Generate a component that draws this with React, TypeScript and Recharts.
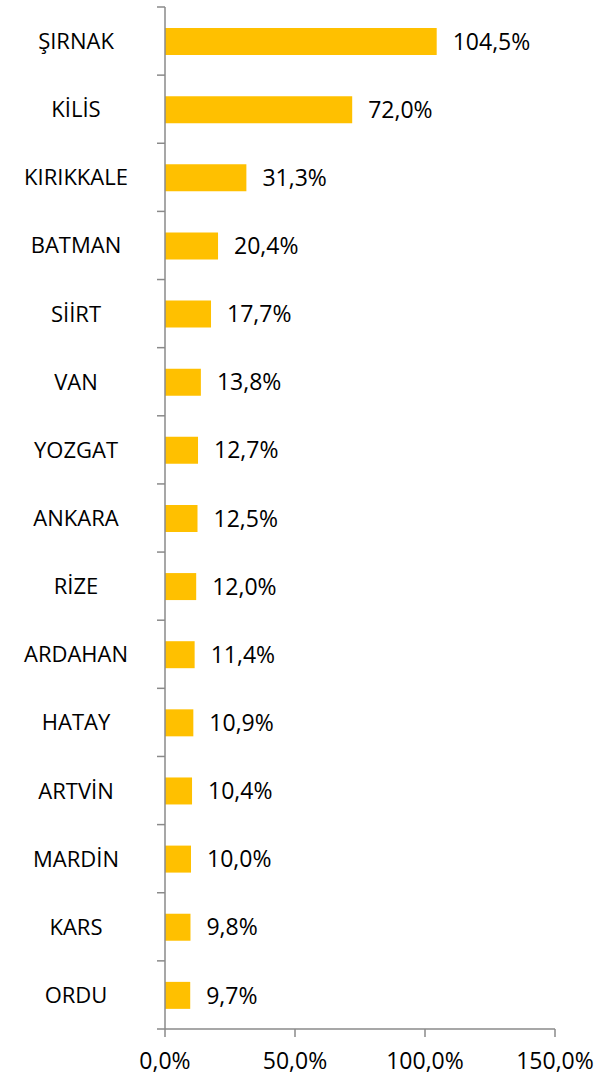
import React from 'react';
import { BarChart, Bar, XAxis, YAxis, LabelList } from 'recharts';

const provinces = ['ŞIRNAK', 'KİLİS', 'KIRIKKALE', 'BATMAN', 'SİİRT', 'VAN', 'YOZGAT', 'ANKARA', 'RİZE', 'ARDAHAN', 'HATAY', 'ARTVİN', 'MARDİN', 'KARS', 'ORDU'];
const rates = [104.5, 72.0, 31.3, 20.4, 17.7, 13.8, 12.7, 12.5, 12.0, 11.4, 10.9, 10.4, 10.0, 9.8, 9.7];
const xTicks = [0, 50, 100, 150];

const W = 608;
const H = 1078;
const X_AXIS_H = 30;
const M = { top: 7, right: 53, bottom: 49 - X_AXIS_H, left: 0 };
const Y_AXIS_W = 165;
const band = (H - M.top - 49) / provinces.length;
const AXIS = '#8a8a8a';
const FONT = '"Open Sans", sans-serif';

const pct = (v: number) => v.toFixed(1).replace('.', ',') + '%';

const data = provinces.map((name, i) => ({ name, value: rates[i] }));

// category labels sit mid-band, tick marks sit on band edges (Excel style)
function CategoryTick(props: any) {
  const { y, payload, index } = props;
  const top = y - band / 2;
  const ax = Y_AXIS_W;
  return (
    <g>
      <line x1={ax - 8} x2={ax} y1={top} y2={top} stroke={AXIS} strokeWidth={1.5} />
      {index === provinces.length - 1 && (
        <line x1={ax - 8} x2={ax} y1={top + band} y2={top + band} stroke={AXIS} strokeWidth={1.5} />
      )}
      <text x={76} y={y} dy={8} textAnchor="middle" fontFamily={FONT} fontSize={22} fill="#000">
        {payload.value}
      </text>
    </g>
  );
}

function ValueTick(props: any) {
  const { x, payload } = props;
  return (
    <text x={x} y={H - 49} dy={40} textAnchor="middle" fontFamily={FONT} fontSize={23} fill="#000">
      {pct(payload.value)}
    </text>
  );
}

export default function App() {
  return (
    <div style={{ position: 'absolute', left: 0, top: 0, width: W, height: H, background: '#fff' }}>
      <BarChart width={W} height={H} data={data} layout="vertical" margin={M} barSize={27}>
        <XAxis
          type="number"
          domain={[0, 150]}
          ticks={xTicks}
          height={X_AXIS_H}
          stroke={AXIS}
          strokeWidth={1.5}
          tickSize={8}
          tick={<ValueTick />}
          interval={0}
        />
        <YAxis
          type="category"
          dataKey="name"
          width={Y_AXIS_W}
          stroke={AXIS}
          strokeWidth={1.5}
          tickLine={false}
          tick={<CategoryTick />}
          interval={0}
        />
        <Bar dataKey="value" fill="#FFC000" isAnimationActive={false}>
          <LabelList
            dataKey="value"
            position="right"
            offset={16}
            formatter={(v: any) => pct(Number(v))}
            style={{ fill: '#000', fontSize: 23, fontFamily: FONT }}
          />
        </Bar>
      </BarChart>
    </div>
  );
}
